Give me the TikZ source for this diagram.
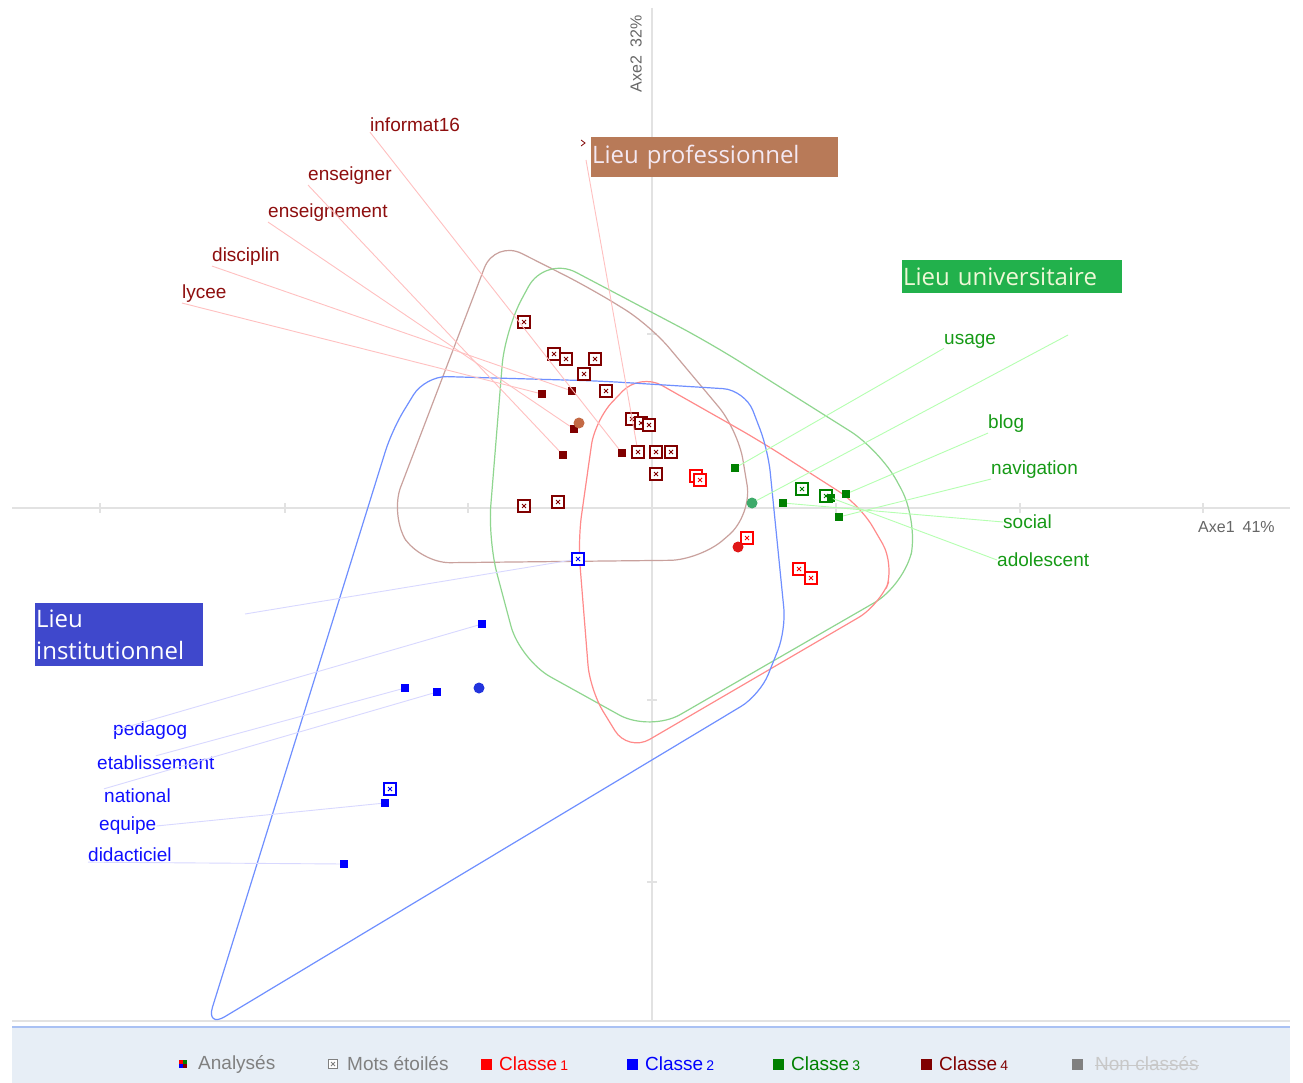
\documentclass[tikz,border=0pt]{standalone}
\usepackage{fontspec}
\setmainfont{Liberation Sans}
\newfontfamily\boxfont{Open Sans}
\usepackage{tikz}
\usetikzlibrary{calc}

\definecolor{classOne}{HTML}{FF0000}
\definecolor{classTwo}{HTML}{0000FF}
\definecolor{classThree}{HTML}{008000}
\definecolor{classFour}{HTML}{800000}
\definecolor{labFour}{HTML}{8E0E0E}
\definecolor{labThree}{HTML}{169A16}
\definecolor{labTwo}{HTML}{1010FF}
\definecolor{axisgray}{HTML}{E2E2E2}
\definecolor{axistext}{HTML}{666666}
\definecolor{hullFour}{HTML}{C9A19D}
\definecolor{hullThree}{HTML}{8FD68F}
\definecolor{hullOne}{HTML}{FF8A8A}
\definecolor{hullTwo}{HTML}{6F8FFF}
\definecolor{leadFour}{HTML}{FFC0C0}
\definecolor{leadThree}{HTML}{B5FFB0}
\definecolor{leadTwo}{HTML}{D8D8FF}
\definecolor{meanFour}{HTML}{C46A45}
\definecolor{meanThree}{HTML}{3DAA6A}
\definecolor{meanTwo}{HTML}{2233DD}
\definecolor{meanOne}{HTML}{E01818}
\definecolor{proBox}{HTML}{B87A58}
\definecolor{uniBox}{HTML}{22B14C}
\definecolor{instBox}{HTML}{3F48CC}
\definecolor{proText}{HTML}{F4E8F2}
\definecolor{uniText}{HTML}{EEF8D6}
\definecolor{legendbg}{HTML}{E7EEF6}
\definecolor{legendline}{HTML}{A9C1F3}
\definecolor{keygray}{HTML}{808080}
\definecolor{nongray}{HTML}{C8C8C8}

\begin{document}
\begin{tikzpicture}[x=1pt, y=-1pt,
  hull/.style={draw=#1, line width=1.2pt},
  lead/.style={draw=#1, line width=0.9pt},
  starbox/.style={draw=#1, fill=white, line width=1.7pt, minimum size=12pt, inner sep=0pt,
    path picture={\draw[#1, line width=0.9pt]
      ([shift={(-2pt,-2pt)}]path picture bounding box.center) -- ([shift={(2pt,2pt)}]path picture bounding box.center)
      ([shift={(-2pt,2pt)}]path picture bounding box.center) -- ([shift={(2pt,-2pt)}]path picture bounding box.center);}},
  dot/.style={fill=#1, minimum size=8pt, inner sep=0pt},
  mean/.style={circle, fill=#1, minimum size=11pt, inner sep=0pt},
  word/.style={anchor=west, inner sep=0pt, text=#1, font=\fontsize{19}{22}\selectfont},
  place/.style={fill=#1, anchor=north west, inner xsep=1pt, inner ysep=0pt, align=left,
    font=\boxfont\fontsize{24}{32}\selectfont},
]
\useasboundingbox (0,0) rectangle (1303,1083);
\fill[white] (0,0) rectangle (1303,1083);

% axes
\draw[axisgray, line width=2pt] (12,508) -- (1290,508);
\draw[axisgray, line width=2pt] (652,8) -- (652,1021);
\foreach \t in {100,285,468,836,1020,1203}
  \draw[axisgray, line width=1.5pt] (\t,503) -- (\t,513);
\foreach \t in {334,700,882}
  \draw[axisgray, line width=1.5pt] (647,\t) -- (657,\t);
\draw[axisgray, line width=1.5pt] (12,1021) -- (1290,1021);
\node[anchor=west, inner sep=0pt, text=axistext, font=\fontsize{16}{18}\selectfont] (axeone) at (1198,527) {Axe1\enspace 41\%};
\node[rotate=90, inner sep=0pt, text=axistext, font=\fontsize{16}{18}\selectfont] (axetwo) at (636,54) {Axe2\enspace 32\%};

% hulls
\draw[hull=hullFour, rounded corners=30pt] (590,288) -- (650,325) -- (738,430) -- (752,515) -- (700,560) -- (420,563) -- (390,515) -- (495,240) -- cycle;
\draw[hull=hullThree, rounded corners=35pt] (710,343) -- (880,450) -- (918,520) -- (905,585) -- (650,732) -- (520,660) -- (488,540) -- (505,330) -- (545,256) -- cycle;
\draw[hull=hullOne, rounded corners=25pt] (760,441) -- (860,505) -- (895,565) -- (880,605) -- (628,752) -- (590,690) -- (578,540) -- (595,420) -- (640,373) -- cycle;
\draw[hull=hullTwo, rounded corners=22pt] (600,381) -- (745,390) -- (768,450) -- (786,630) -- (760,695) -- (206,1028) -- (392,430) -- (425,376) -- cycle;

% classe 4
\foreach \n/\x/\y in {a/524/322, b/554/354, c/566/359, d/595/359, e/584/374, f/606/391, g/632/419,
  h/641/423, i/649/425, j/638/452, k/656/452, l/671/452, m/656/474, n/524/506, o/558/502}
  \node[starbox=classFour] (s4\n) at (\x,\y) {};
\foreach \n/\x/\y in {a/542/394, b/572/391, c/574/429, d/563/455, e/622/453}
  \node[dot=classFour] (f4\n) at (\x,\y) {};
\node[mean=meanFour] (m4) at (579,423) {};

% classe 1
\foreach \n/\x/\y in {a/696/476, b/700/480, c/747/538, d/799/569, e/811/578}
  \node[starbox=classOne] (s1\n) at (\x,\y) {};
\node[mean=meanOne] (m1) at (738,547) {};

% classe 3
\foreach \n/\x/\y in {a/802/489, b/826/496}
  \node[starbox=classThree] (s3\n) at (\x,\y) {};
\foreach \n/\x/\y in {a/735/468, b/783/503, c/846/494, d/839/517, e/831/498}
  \node[dot=classThree] (f3\n) at (\x,\y) {};
\node[mean=meanThree] (m3) at (752,503) {};

% classe 2
\foreach \n/\x/\y in {a/578/559, b/390/789}
  \node[starbox=classTwo] (s2\n) at (\x,\y) {};
\foreach \n/\x/\y in {a/482/624, b/405/688, c/437/692, d/385/803, e/344/864}
  \node[dot=classTwo] (f2\n) at (\x,\y) {};
\node[mean=meanTwo] (m2) at (479,688) {};

% word labels
\node[word=labFour] (informat) at (370,125) {informat16};
\node[word=labFour] (enseigner) at (308,176) {enseigner};
\node[word=labFour] (enseignement) at (268,213) {enseignement};
\node[word=labFour] (disciplin) at (212,257) {disciplin};
\node[word=labFour] (lycee) at (182,294) {lycee};
\node[word=labThree] (usage) at (944,341) {usage};
\node[word=labThree] (blog) at (988,424) {blog};
\node[word=labThree] (navigation) at (991,470) {navigation};
\node[word=labThree] (social) at (1003,522) {social};
\node[word=labThree] (adolescent) at (997,560) {adolescent};
\node[word=labTwo] (pedagog) at (113,731) {pedagog};
\node[word=labTwo] (etablissement) at (97,763) {etablissement};
\node[word=labTwo] (national) at (104,796) {national};
\node[word=labTwo] (equipe) at (99,826) {equipe};
\node[word=labTwo] (didacticiel) at (88,855) {didacticiel};

% place boxes
\node[place=proBox, text=proText, minimum width=247pt, minimum height=40pt, text width=245pt] (pro) at (591,137) {Lieu professionnel};
\node[place=uniBox, text=uniText, minimum width=220pt, minimum height=33pt, text width=218pt] (uni) at (902,260) {Lieu universitaire};
\node[place=instBox, text=white, minimum width=168pt, minimum height=63pt, text width=166pt] (inst) at (35,603) {Lieu\\institutionnel};
\coordinate (profoot) at (586,160);
\coordinate (unifoot) at (1068,335);
\coordinate (instfoot) at (245,614);
\draw[classFour, line width=0.8pt] (581,140) -- (585,143) -- (581,146);

% leaders
\draw[lead=leadFour] (informat.south west) -- (f4e);
\draw[lead=leadFour] (enseigner.south west) -- (f4d);
\draw[lead=leadFour] (enseignement.south west) -- (f4c);
\draw[lead=leadFour] (disciplin.south west) -- (f4b);
\draw[lead=leadFour] (lycee.south west) -- (f4a);
\draw[lead=leadFour] (profoot) -- (s4j);
\draw[lead=leadThree] (usage.south west) -- (f3a);
\draw[lead=leadThree] (unifoot) -- (m3);
\draw[lead=leadThree] (blog.south west) -- (f3c);
\draw[lead=leadThree] (navigation.south west) -- (f3d);
\draw[lead=leadThree] (social.west) -- (f3b);
\draw[lead=leadThree] (adolescent.west) -- (s3b);
\draw[lead=leadTwo] (instfoot) -- (s2a);
\draw[lead=leadTwo] (pedagog.west) -- (f2a);
\draw[lead=leadTwo] (etablissement.north) -- (f2b);
\draw[lead=leadTwo] (national.north west) -- (f2c);
\draw[lead=leadTwo] (equipe.east) -- (f2d);
\draw[lead=leadTwo] (didacticiel.south west) -- (f2e);

% legend
\fill[legendbg] (12,1027) rectangle (1290,1083);
\draw[legendline, line width=2pt] (12,1027) -- (1290,1027);
\fill[classOne] (179,1060) rectangle (183,1064);
\fill[classThree] (183,1060) rectangle (187,1064);
\fill[classTwo] (179,1064) rectangle (183,1068);
\fill[classFour] (183,1064) rectangle (187,1068);
\node[anchor=west, inner sep=0pt, text=keygray, font=\fontsize{19}{22}\selectfont] (keyana) at (198,1064) {Analysés};
\node[starbox=keygray, minimum size=9pt, line width=1pt] (keystar) at (333,1064) {};
\node[anchor=west, inner sep=0pt, text=keygray, font=\fontsize{19}{22}\selectfont] (keystartext) at (347,1064) {Mots étoilés};
\foreach \x/\c/\n in {486/classOne/1, 632/classTwo/2, 778/classThree/3, 926/classFour/4} {
  \node[dot=\c, minimum size=11pt] (key\n) at (\x,1064) {};
  \node[anchor=west, inner sep=0pt, text=\c, font=\fontsize{19}{22}\selectfont] (keytext\n) at (\x+13,1064) {Classe\,{\fontsize{14}{16}\selectfont\n}};
}
\node[dot=keygray, minimum size=11pt] (keynon) at (1077,1064) {};
\node[anchor=west, inner sep=0pt, text=nongray, font=\fontsize{19}{22}\selectfont] (keynontext) at (1095,1064) {Non classés};
\draw[nongray, line width=1pt] ([yshift=5pt]keynontext.base west) -- ([yshift=5pt]keynontext.base east);
\end{tikzpicture}
\end{document}
